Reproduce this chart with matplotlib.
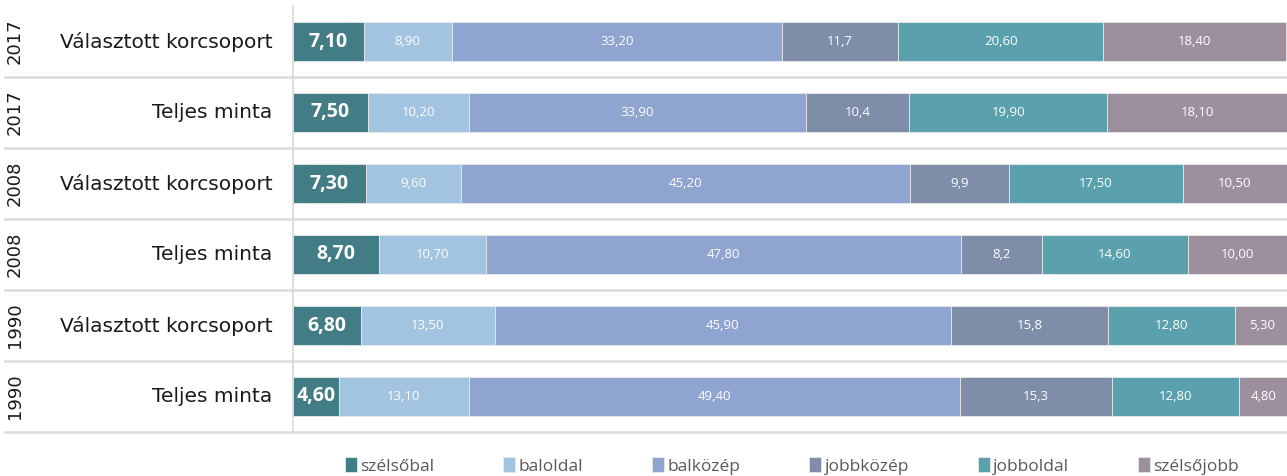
import numpy as np
import matplotlib
matplotlib.use("Agg")
import matplotlib.pyplot as plt

plt.rcParams['font.family'] = ['Open Sans', 'DejaVu Sans']

# rows, top to bottom
years = ["2017", "2017", "2008", "2008", "1990", "1990"]
groups = ["Választott korcsoport", "Teljes minta", "Választott korcsoport",
          "Teljes minta", "Választott korcsoport", "Teljes minta"]

series = ["szélsőbal", "baloldal", "balközép", "jobbközép", "jobboldal", "szélsőjobb"]
szelsobal = [7.10, 7.50, 7.30, 8.70, 6.80, 4.60]
baloldal = [8.90, 10.20, 9.60, 10.70, 13.50, 13.10]
balkozep = [33.20, 33.90, 45.20, 47.80, 45.90, 49.40]
jobbkozep = [11.7, 10.4, 9.9, 8.2, 15.8, 15.3]
jobboldal = [20.60, 19.90, 17.50, 14.60, 12.80, 12.80]
szelsojobb = [18.40, 18.10, 10.50, 10.00, 5.30, 4.80]
values = [szelsobal, baloldal, balkozep, jobbkozep, jobboldal, szelsojobb]
decimals = [2, 2, 2, 1, 2, 2]

colors = ["#427c84", "#a3c4e1", "#8fa4d1", "#7f8ea8", "#5aa1ad", "#9e8f9f"]

fig = plt.figure(figsize=(12.87, 4.76), dpi=100)
ax = fig.add_axes([293 / 1287, 1 - 432 / 476, 1 - 293 / 1287, 426 / 476])

n = len(groups)
y = np.arange(n)[::-1] + 0.5
left = np.zeros(n)
for i, (name, vals) in enumerate(zip(series, values)):
    vals = np.array(vals)
    ax.barh(y, vals, left=left, height=0.56, color=colors[i], label=name,
            edgecolor="#e8e8e8", linewidth=0.6)
    for yy, l, v in zip(y, left, vals):
        txt = f"{v:.{decimals[i]}f}".replace(".", ",")
        if i == 0:
            ax.text(l + v / 2, yy, txt, ha="center", va="center", color="white",
                    fontsize=14, fontweight="bold")
        else:
            ax.text(l + v / 2, yy, txt, ha="center", va="center", color="white",
                    fontsize=9.5)
    left += vals

ax.set_xlim(0, 100)
ax.set_ylim(0, n)
ax.set_xticks([])
ax.set_yticks([])
for s in ["top", "right", "bottom"]:
    ax.spines[s].set_visible(False)
ax.spines["left"].set_color("#d9d9d9")
ax.spines["left"].set_linewidth(1.2)

# row separators
for k in range(n):
    ax.axhline(k, xmin=-0.29, xmax=1, color="#dcdcdc", linewidth=1.8, clip_on=False)

for yy, yr, g in zip(y, years, groups):
    ax.text(-2.1, yy, g, ha="right", va="center", fontsize=14.5, color="#1a1a1a",
            family=["DejaVu Sans"])
    ax.text(-28.0, yy, yr, ha="center", va="center", rotation=90, fontsize=13,
            color="#1a1a1a", family=["DejaVu Sans"])

leg = fig.legend(loc="lower center", bbox_to_anchor=(792 / 1287, -0.03), ncol=6,
                 frameon=False, handlelength=0.7, handleheight=0.9, handletextpad=0.2,
                 columnspacing=3.95, prop={"size": 12.5})
for t in leg.get_texts():
    t.set_color("#595959")

fig.savefig("out.png", dpi=100)
